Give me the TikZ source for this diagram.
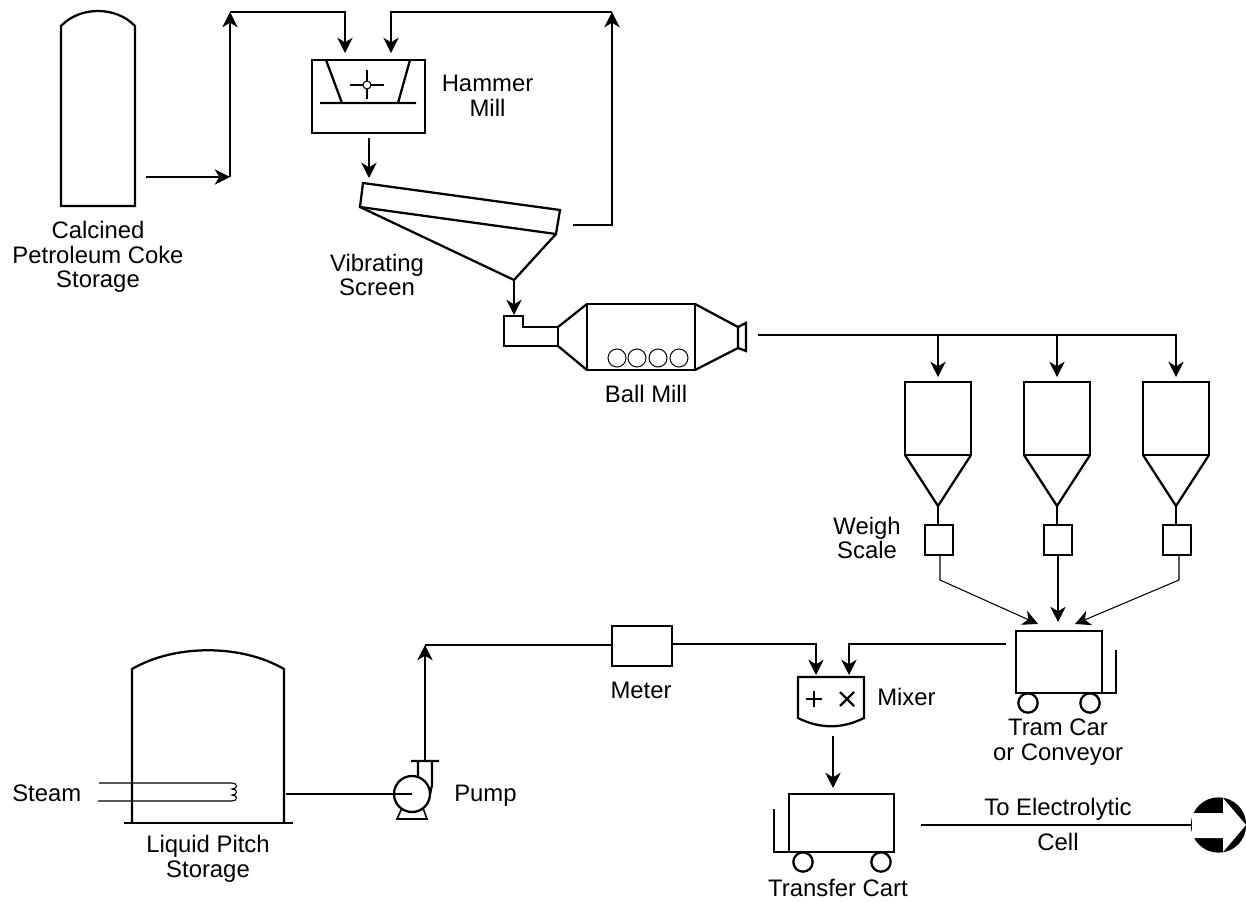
\documentclass[tikz,border=0pt]{standalone}
\usepackage{fontspec}
\setmainfont{Liberation Sans}
\usetikzlibrary{arrows.meta}
\tikzset{
    flow/.style={line width=0.8pt},
    vessel/.style={line width=1.7pt},
    unit/.style={draw, line width=1.7pt, rectangle, inner sep=0pt, outer sep=0pt},
    wheel/.style={draw, line width=1.7pt, circle, inner sep=0pt, outer sep=0pt, minimum size=14.5pt},
    label/.style={align=center, inner sep=0pt, font=\fontsize{17.9}{18.4}\selectfont}
}
\begin{document}
\begin{tikzpicture}[x=0.75pt, y=-0.75pt, >={Stealth[length=11.5pt, width=11.5pt, inset=3.5pt]}]
    \useasboundingbox (0,0) rectangle (1246,903);

    % coke storage and hammer mill circuit
    \draw[vessel] (61,206) -- (61,26) .. controls (80,6) and (116,6) .. (135,26) -- (135,206) -- cycle;
    \node[label] (cokelabel) at (98,257) {Calcined\\Petroleum Coke\\Storage};
    \coordinate (cokeout) at (146,177);
    \coordinate (riser) at (230,177);
    \coordinate (risertop) at (230,12);
    \coordinate (millinL) at (345,53);
    \coordinate (millinR) at (391,53);
    \coordinate (returnstart) at (573,225);
    \coordinate (returnbase) at (612,225);
    \coordinate (returntop) at (612,12);
    \draw[flow, ->] (cokeout) -- (riser);
    \draw[flow, ->] (riser) -- (risertop);
    \draw[flow, ->] (risertop) -| (millinL);
    \draw[flow, ->] (returnstart) -- (returnbase) -- (returntop);
    \draw[flow, ->] (returntop) -| (millinR);

    \node[unit, minimum width=84.75pt, minimum height=54.75pt] (hammer) at (368.5,96.5) {};
    \draw[vessel] (326,60) -- (342,103) (410,60) -- (398,103) (320,103) -- (416,103);
    \draw[vessel] (350,85) -- (384,85) (367,70) -- (367,99);
    \node[draw, fill=white, line width=0.8pt, circle, inner sep=0pt, minimum size=6pt] (rotor) at (367,85) {};
    \node[label] (hammerlabel) at (487.5,96) {Hammer\\Mill};

    % vibrating screen
    \coordinate (screenin) at (369,178);
    \draw[flow, ->] (369,138) -- (screenin);
    \draw[vessel] (363,183) -- (560,210) -- (556,234) -- (360,207) -- cycle;
    \draw[vessel, line join=round] (360,207) -- (514,280) -- (556,234);
    \node[label] (screenlabel) at (377,275) {Vibrating\\Screen};

    % ball mill
    \coordinate (screenout) at (514,280);
    \coordinate (ballin) at (514,315);
    \draw[flow, ->] (screenout) -- (ballin);
    \draw[vessel] (504,316) -- (523,316) -- (523,327) -- (558,327) -- (558,346) -- (504,346) -- cycle;
    \draw[vessel] (558,327) -- (587,304) (558,346) -- (587,370);
    \node[unit, minimum width=81pt, minimum height=49.5pt] (ballmill) at (641,337) {};
    \draw[vessel] (695,304) -- (738,327) -- (738,348) -- (695,370);
    \draw[vessel] (738,327) -- (746,323) -- (746,351) -- (738,348);
    \foreach \x in {617,637,658,679}
        \draw[line width=0.75pt] (\x,358) circle (9);
    \node[label] (ballmilllabel) at (646,394) {Ball Mill};

    % bins and weigh scales
    \coordinate (ballout) at (758,335);
    \coordinate (busend) at (1177,335);
    \draw[flow] (ballout) -- (busend);
    \foreach \i/\x/\kx/\tipx/\tipy in {1/938/940/1038/624, 2/1057/1058/1058/622, 3/1176/1179/1075/624} {
        \node[unit, minimum width=49.5pt, minimum height=54.75pt] (bin\i) at (\x,418.5) {};
        \draw[vessel, line join=round] (bin\i.south west) -- (\x,506) -- (bin\i.south east);
        \draw[vessel] (\x,506) -- (\x,525);
        \node[unit, minimum width=21pt, minimum height=22.5pt] (scale\i) at (\x+1,540) {};
        \coordinate (bus\i) at (\x,335);
        \coordinate (kink\i) at (\kx,580);
        \coordinate (tip\i) at (\tipx,\tipy);
        \draw[flow, ->, shorten >=3.75pt] (bus\i) -- (bin\i.north);
        \draw[flow, ->] (scale\i.south -| kink\i) -- (kink\i) -- (tip\i);
    }
    \node[label] (scalelabel) at (867,538) {Weigh\\Scale};

    % tram car
    \node[unit, minimum width=64.5pt, minimum height=46.5pt] (tram) at (1059,662) {};
    \draw[vessel] (tram.south east) -- (1116,693) -- (1116,650);
    \node[wheel] (tramwheelL) at (1028,703) {};
    \node[wheel] (tramwheelR) at (1090,703) {};
    \node[label] (tramlabel) at (1058,742) {Tram Car\\or Conveyor};

    % liquid pitch storage and pump
    \draw[vessel] (132,823) -- (132,669) .. controls (175,644) and (241,644) .. (284,669) -- (284,823);
    \draw[vessel] (124,823) -- (293,823);
    \draw[flow] (99,783) -- (232,783) .. controls (238,783) and (238,789) .. (232,789)
        .. controls (238,789) and (238,795) .. (232,795) .. controls (238,795) and (238,801) .. (232,801) -- (98,801);
    \node[label, anchor=west] (steamlabel) at (12,793) {Steam};
    \node[label] (pitchlabel) at (208,859) {Liquid Pitch\\Storage};
    \node[wheel, minimum size=27pt] (pump) at (412,794) {};
    \coordinate (tankout) at (286,794);
    \draw[flow] (tankout) -- (pump.center);
    \draw[vessel] (411,761) -- (439,761) (418,761) -- (418,776) (432,761) -- (432,785) -- (430,794);
    \draw[line width=1.2pt] (402,808) -- (397,819) -- (427,819) -- (423,808);
    \node[label, anchor=west] (pumplabel) at (454,796) {Pump};

    % meter and mixer
    \coordinate (pumpout) at (425,760);
    \coordinate (pumptop) at (425,645);
    \coordinate (mixerinL) at (816,675);
    \coordinate (mixerinR) at (849,675);
    \coordinate (tramout) at (1006,644);
    \node[unit, minimum width=45pt, minimum height=30pt] (meter) at (642,646) {};
    \draw[flow, ->] (pumpout) -- (pumptop);
    \draw[flow] (pumptop) -- (pumptop -| meter.west);
    \draw[flow, ->] (meter.east |- 0,644) -| (mixerinL);
    \draw[flow, ->] (tramout) -| (mixerinR);
    \node[label] (meterlabel) at (641,690) {Meter};

    \draw[vessel] (798,677) -- (864,677) -- (864,718) .. controls (842,729) and (820,729) .. (798,718) -- cycle;
    \draw[vessel] (806,699) -- (822,699) (814,691) -- (814,707);
    \draw[vessel] (840,692) -- (854,706) (840,706) -- (854,692);
    \node[label, anchor=west] (mixerlabel) at (877,697) {Mixer};

    % transfer cart and exit
    \coordinate (mixerout) at (833,736);
    \coordinate (cartin) at (833,788);
    \draw[flow, ->] (mixerout) -- (cartin);
    \node[unit, minimum width=78.75pt, minimum height=43.5pt] (cart) at (841.5,823) {};
    \draw[vessel] (cart.south west) -- (774,852) -- (774,809);
    \node[wheel] (cartwheelL) at (803,862) {};
    \node[wheel] (cartwheelR) at (881,862) {};
    \node[label] (cartlabel) at (838,888) {Transfer Cart};

    \node[circle, fill=black, inner sep=0pt, minimum size=41.5pt] (cellmark) at (1218.5,825) {};
    \fill[white] (1192,813) -- (1223,813) -- (1223,798) -- (1246,825) -- (1223,852) -- (1223,838) -- (1192,838) -- cycle;
    \coordinate (cartout) at (921,825);
    \draw[flow] (cartout) -- (cellmark.west);
    \node[label] (exittop) at (1058,809) {To Electrolytic};
    \node[label] (exitbottom) at (1058,842) {Cell};
\end{tikzpicture}
\end{document}
